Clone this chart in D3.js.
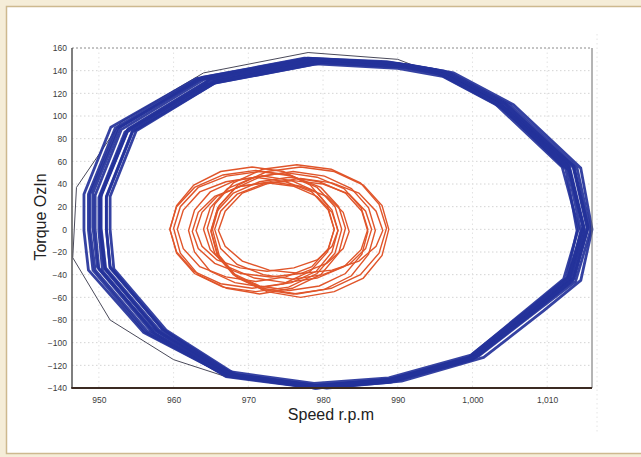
<!DOCTYPE html>
<html>
<head>
<meta charset="utf-8">
<script src="https://cdn.jsdelivr.net/npm/d3@7"></script>
<style>
	body { margin: 0; background: #f5edd8; }
	text { font-family: "Liberation Sans", Arial, sans-serif; }
</style>
</head>
<body>
<svg id="chart" width="641" height="457"></svg>
<script>
// -------------- DATA --------------
const xTicks = [950, 960, 970, 980, 990, 1000, 1010];
const yTicks = [-140, -120, -100, -80, -60, -40, -20, 0, 20, 40, 60, 80, 100, 120, 140, 160];

// thin dark trace (first pass, outside the band)
const startTrace = [[1003,117],[990,150],[978,156],[964,138],[953,95],[947,37],[946.5,-25],[951.5,-80],[960,-115],[967,-130],[979,-140]];

// blue cycles: [speed, torque]
const blue1 = [[979,150],[990,146],[996,139],[1004,111],[1013,55],[1015,0],[1013,-45],[1008,-72],[1000,-113],[989,-133],[979,-139],[967,-128],[957,-90],[950,-35],[949.5,0],[949.5,30],[953,88],[964,132]];
const blue2 = [[978,151],[989,147],[995.5,140],[1003.5,112],[1013.5,56],[1015.5,2],[1013.5,-43],[1008.5,-70],[1000.5,-112],[989.5,-132],[979.5,-138],[966.5,-127],[956,-91],[948.6,-36],[948,-1],[948,31],[951.6,90],[963,133]];
const blue3 = [[980,147],[991,143],[996.5,136],[1004,108],[1012.5,53],[1014,-1],[1012.5,-46],[1007.5,-73],[999.5,-114],[988.5,-134],[979,-140],[967.5,-129],[958.5,-88],[951.5,-33],[951,1],[951,28],[954.5,86],[965.5,129]];
const blue4 = [[979.5,149],[990.5,145],[997,138],[1005,110],[1014,54],[1015.8,-1],[1013.8,-46],[1008.8,-71],[1000.8,-112],[989.8,-133],[980,-139],[968,-128],[958.5,-88],[951.5,-34],[951,0],[951,29],[954.5,87],[965.5,131]];
const blue5 = [[978.5,150],[989.5,146],[995,139],[1003,111],[1012,55],[1014.2,1],[1012.2,-44],[1007.2,-71],[999.5,-113],[988.5,-133],[978.5,-138],[966.5,-127],[956.5,-90],[949.5,-36],[948.8,0],[948.8,31],[952.5,89],[963.5,132]];
const blue6 = [[979,146],[990,142],[996,135],[1004,107],[1013,52],[1015,-2],[1013,-47],[1008,-74],[1000,-115],[989,-135],[979,-140],[967,-130],[957.5,-92],[950.5,-37],[950,-2],[950,28],[953.5,86],[964.5,128]];
const blue7 = [[977.5,151],[988.5,148],[995,141],[1003,113],[1012.8,57],[1014.8,3],[1012.8,-42],[1007.8,-69],[999.8,-111],[988.8,-131],[978.8,-136],[966.8,-125],[957,-87],[949.8,-33],[949.2,2],[949.2,32],[952.8,90],[963.8,134]];
const blue8 = [[980.5,149],[991.5,145],[997.5,138],[1005.5,110],[1014.5,54],[1016,0],[1014.5,-45],[1009.5,-72],[1001.5,-113],[990.5,-134],[980.5,-140],[968.5,-129],[959,-89],[952,-35],[951.5,0],[951.5,29],[955,87],[966,131]];
const blue9 = [[979.2,149.5],[990.2,145.5],[996.5,138.5],[1004.5,110.5],[1013.5,54.5],[1015.4,0],[1013.4,-45.5],[1008.4,-71.5],[1000.4,-112.5],[989.4,-133],[979.5,-139],[967.5,-128.5],[957.8,-89],[950.8,-34.5],[950.2,0],[950.2,29.5],[953.8,87.5],[964.8,131.5]];
const blue10 = [[978.2,150.5],[989.2,146.5],[995.2,139.5],[1003.2,111.5],[1012.8,55.5],[1014.8,1.5],[1012.8,-43.5],[1007.8,-70.5],[1000,-112.5],[989,-132.5],[979,-138],[966.5,-127],[956.2,-90.5],[949.2,-36],[948.6,-0.5],[948.6,31],[952.2,89.5],[963.2,132.5]];
const blue11 = [[979.5,147.5],[990.5,143.5],[996.2,136.5],[1004,108.5],[1012.8,52.5],[1014.5,-1.5],[1012.8,-46.5],[1007.8,-73.5],[999.8,-114.5],[988.8,-134.5],[979,-140],[967.2,-129.5],[957.8,-90],[950.8,-35],[950.2,-0.5],[950.2,28],[953.8,86],[964.8,129.5]];
const blue12 = [[979,150],[990,146.5],[996.2,139.5],[1004.2,111.5],[1013.6,55.5],[1015.4,1.5],[1013.6,-43.5],[1008.6,-70.5],[1000.6,-112],[989.6,-132.5],[979.6,-138.5],[967.6,-127.5],[958,-88.5],[950.9,-34],[950.3,1],[950.3,30.5],[953.9,88.5],[964.9,132.5]];

// orange cycles, left group
const orangeA1 = [[982.5,0],[981.6,20],[979.2,37],[975.4,48],[971,52],[966.6,48],[962.8,37],[960.4,20],[959.5,0],[960.4,-21],[962.8,-39],[966.6,-51],[971,-55],[975.4,-51],[979.2,-39],[981.6,-21]];
const orangeA2 = [[982,-1],[981.2,17],[979.1,33],[975.8,43],[972,47],[968.2,43],[964.9,33],[962.8,17],[962,-1],[962.8,-20],[964.9,-37],[968.2,-47],[972,-51],[975.8,-47],[979.1,-37],[981.2,-20]];
const orangeA3 = [[981.5,0],[980.6,21],[978.3,39],[974.7,51],[970.5,55],[966.3,51],[962.7,39],[960.4,21],[959.5,0],[960.4,-20],[962.7,-37],[966.3,-48],[970.5,-52],[974.7,-48],[978.3,-37],[980.6,-20]];
const orangeA4 = [[983.5,-2],[982.7,15],[980.5,29],[977,38],[973,42],[969,38],[965.5,29],[963.3,15],[962.5,-2],[963.3,-17],[965.5,-30],[969,-39],[973,-42],[977,-39],[980.5,-30],[982.7,-17]];
const orangeA5 = [[983,1],[982.1,20],[979.7,37],[975.9,47],[971.5,51],[967.1,47],[963.3,37],[960.9,20],[960,1],[960.9,-21],[963.3,-40],[967.1,-52],[971.5,-57],[975.9,-52],[979.7,-40],[982.1,-21]];
const orangeA6 = [[982,-1],[981.2,15],[979.2,29],[976.1,38],[972.5,41],[968.9,38],[965.8,29],[963.8,15],[963,-1],[963.8,-15],[965.8,-27],[968.9,-34],[972.5,-37],[976.1,-34],[979.2,-27],[981.2,-15]];
const orangeA7 = [[981.5,0],[980.7,17],[978.5,33],[975,42],[971,46],[967,42],[963.5,33],[961.3,17],[960.5,0],[961.3,-17],[963.5,-33],[967,-42],[971,-46],[975,-42],[978.5,-33],[980.7,-17]];
// orange cycles, right group
const orangeB1 = [[987,-1],[986.1,19],[983.8,36],[980.2,47],[976,51],[971.8,47],[968.2,36],[965.9,19],[965,-1],[965.9,-22],[968.2,-41],[971.8,-53],[976,-57],[980.2,-53],[983.8,-41],[986.1,-22]];
const orangeB2 = [[988.8,0],[987.9,21],[985.4,39],[981.5,51],[977,55],[972.5,51],[968.6,39],[966.1,21],[965.2,0],[966.1,-23],[968.6,-43],[972.5,-55],[977,-60],[981.5,-55],[985.4,-43],[987.9,-23]];
const orangeB3 = [[986,-2],[985.2,16],[983,32],[979.5,42],[975.5,46],[971.5,42],[968,32],[965.8,16],[965,-2],[965.8,-22],[968,-39],[971.5,-50],[975.5,-54],[979.5,-50],[983,-39],[985.2,-22]];
const orangeB4 = [[988.5,1],[987.5,22],[985,41],[981.1,53],[976.5,57],[971.9,53],[968,41],[965.5,22],[964.5,1],[965.5,-21],[968,-40],[971.9,-52],[976.5,-57],[981.1,-52],[985,-40],[987.5,-21]];
const orangeB5 = [[988,-1],[987.1,16],[984.8,32],[981.2,41],[977,45],[972.8,41],[969.2,32],[966.9,16],[966,-1],[966.9,-15],[969.2,-28],[972.8,-36],[977,-39],[981.2,-36],[984.8,-28],[987.1,-15]];
const orangeB6 = [[986,0],[985.1,19],[982.8,36],[979.2,46],[975,50],[970.8,46],[967.2,36],[964.9,19],[964,0],[964.9,-18],[967.2,-33],[970.8,-43],[975,-47],[979.2,-43],[982.8,-33],[985.1,-18]];
const orangeB7 = [[986.5,0],[985.7,16],[983.5,31],[980,40],[976,43],[972,40],[968.5,31],[966.3,16],[965.5,0],[966.3,-17],[968.5,-31],[972,-40],[976,-44],[980,-40],[983.5,-31],[985.7,-17]];

const blueCycles = [blue1, blue2, blue3, blue4, blue5, blue6, blue7, blue8, blue9, blue10, blue11, blue12];
const orangeCycles = [orangeA1, orangeB1, orangeA2, orangeB2, orangeA3, orangeB3, orangeA4, orangeB4, orangeA5, orangeB5, orangeA6, orangeB6, orangeA7, orangeB7];

// -------------- LAYOUT --------------
const size = { w: 641, h: 457 };
const margin = { l: 72, r: 49, t: 48, b: 69 };

const svg = d3.select("#chart");

// paper frame
svg.append("rect")
	.attr("x", 6.5).attr("y", 6.5)
	.attr("width", size.w).attr("height", 447)
	.attr("fill", "#fff")
	.attr("stroke", "#cdb98f")
	.attr("stroke-width", 1.5);

let xScale = d3
	.scaleLinear()
	.domain([946.4, 1016])
	.range([margin.l, size.w - margin.r]);

let yScale = d3
	.scaleLinear()
	.domain([-140, 160])
	.range([size.h - margin.b, margin.t]);

// grid
svg.append("g")
	.selectAll("line")
	.data(yTicks.slice(0, -1))
	.join("line")
	.attr("x1", margin.l).attr("x2", size.w - margin.r)
	.attr("y1", (d) => yScale(d)).attr("y2", (d) => yScale(d))
	.attr("stroke", "#d4d4d4")
	.attr("stroke-dasharray", "1.5,2.5");

svg.append("g")
	.selectAll("line")
	.data(xTicks)
	.join("line")
	.attr("x1", (d) => xScale(d)).attr("x2", (d) => xScale(d))
	.attr("y1", margin.t).attr("y2", size.h - margin.b)
	.attr("stroke", "#e2e2e2")
	.attr("stroke-dasharray", "1.5,3");

// top dotted border and faint stray guide at the right
svg.append("line")
	.attr("x1", margin.l).attr("x2", size.w - margin.r)
	.attr("y1", yScale(160)).attr("y2", yScale(160))
	.attr("stroke", "#8a8a8a")
	.attr("stroke-dasharray", "2,2");
svg.append("line")
	.attr("x1", 597).attr("x2", 597)
	.attr("y1", 34).attr("y2", 432)
	.attr("stroke", "#e4e4e4")
	.attr("stroke-dasharray", "1.5,3");

// -------------- TRACES --------------
let line = d3
	.line()
	.x((d) => xScale(d[0]))
	.y((d) => yScale(d[1]))
	.curve(d3.curveLinearClosed);

svg.append("path")
	.datum(startTrace)
	.attr("d", d3.line().x((d) => xScale(d[0])).y((d) => yScale(d[1])))
	.attr("fill", "none")
	.attr("stroke", "#4a4a5a")
	.attr("stroke-width", 1);

svg.append("g")
	.selectAll("path")
	.data(blueCycles)
	.join("path")
	.attr("d", line)
	.attr("fill", "none")
	.attr("stroke", "#24329a")
	.attr("stroke-width", 2.8)
	.attr("stroke-opacity", 0.92)
	.attr("stroke-linejoin", "round");

svg.append("g")
	.selectAll("path")
	.data(orangeCycles)
	.join("path")
	.attr("d", line)
	.attr("fill", "none")
	.attr("stroke", "#e0552a")
	.attr("stroke-width", 1.4);

// -------------- AXES --------------
let xAxis = d3.axisBottom(xScale)
	.tickValues(xTicks)
	.tickSize(0)
	.tickPadding(9)
	.tickFormat(d3.format(","));
let xG = svg.append("g")
	.attr("transform", `translate(0, ${size.h - margin.b})`)
	.call(xAxis);

let yAxis = d3.axisLeft(yScale)
	.tickValues(yTicks)
	.tickSize(0)
	.tickPadding(5);
let yG = svg.append("g")
	.attr("transform", `translate(${margin.l}, 0)`)
	.call(yAxis);

[xG, yG].forEach((g) => {
	g.select(".domain").remove();
	g.selectAll("text")
		.attr("fill", "#3c3c3c")
		.style("font-size", "8.5px");
});

// frame lines
svg.append("line")
	.attr("x1", margin.l).attr("x2", margin.l)
	.attr("y1", margin.t).attr("y2", size.h - margin.b)
	.attr("stroke", "#555")
	.attr("stroke-width", 1.5);
svg.append("line")
	.attr("x1", size.w - margin.r).attr("x2", size.w - margin.r)
	.attr("y1", margin.t).attr("y2", size.h - margin.b)
	.attr("stroke", "#6a6a6a")
	.attr("stroke-width", 1);
svg.append("line")
	.attr("x1", margin.l - 0.75).attr("x2", size.w - margin.r)
	.attr("y1", size.h - margin.b).attr("y2", size.h - margin.b)
	.attr("stroke", "#3b2a22")
	.attr("stroke-width", 2);

// titles
svg.append("text")
	.attr("x", 331)
	.attr("y", 420)
	.attr("text-anchor", "middle")
	.attr("fill", "#222")
	.style("font-size", "16px")
	.text("Speed r.p.m");

svg.append("text")
	.attr("transform", "translate(46, 217) rotate(-90)")
	.attr("text-anchor", "middle")
	.attr("fill", "#222")
	.style("font-size", "16px")
	.text("Torque OzIn");
</script>
</body>
</html>
